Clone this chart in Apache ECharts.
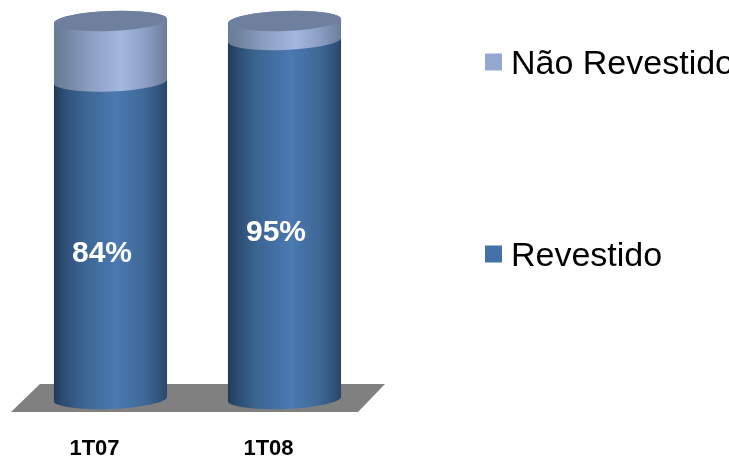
<!DOCTYPE html>
<html><head><meta charset="utf-8">
<style>html,body{margin:0;padding:0;background:#fff}#c{width:729px;height:456px}</style>
<script src="https://cdn.jsdelivr.net/npm/echarts@6/dist/echarts.min.js"></script>
</head><body><div id="c"></div>
<script>
const categories = ['1T07', '1T08'];
const revestido = [84, 95];
const naoRevestido = [16, 5];
const labels = ['84%', '95%'];
const FONT = '"Liberation Sans", Arial, sans-serif';
const TILT = 2.2, RY = 10, RATIO = 0.65;

function grad(stops) {
  return { type: 'linear', x: 0, y: 0, x2: 1, y2: 0,
    colorStops: stops.map(s => ({ offset: s[0], color: s[1] })) };
}
const darkGrad = grad([[0,'#1f3a58'],[0.08,'#2c4c72'],[0.25,'#3b6491'],[0.55,'#4b79b1'],[0.8,'#3e6997'],[0.95,'#2f5178'],[1,'#284766']]);
const lightGrad = grad([[0,'#6a7b99'],[0.1,'#72839f'],[0.3,'#8a9dc0'],[0.6,'#a3b8e0'],[0.82,'#8a9dc2'],[1,'#6c7d9a']]);

function renderBase(isTop) {
  return function (params, api) {
    const i = api.value(0);
    const cx = api.coord([i, 0])[0];
    const y0 = api.coord([i, api.value(1)])[1];
    const y1 = api.coord([i, api.value(2)])[1];
    const rx = api.size([1, 0])[0] * RATIO / 2;
    const t = rx * Math.sin(TILT * Math.PI / 180);
    const L = (y) => (cx - rx) + ' ' + (y + t);
    const R = (y) => (cx + rx) + ' ' + (y - t);
    const A = (sweep, p) => `A ${rx} ${RY} ${-TILT} 0 ${sweep} ${p}`;
    const children = [];
    if (!isTop) {
      children.push({ type: 'path', shape: { pathData: `M ${L(y1)} L ${R(y1)} L ${R(y0)} ${A(1, L(y0))} Z` },
        style: { fill: darkGrad } });
      children.push({ type: 'text', style: { text: labels[i], x: cx - 8.5, y: (y0 + y1) / 2 + 13,
        fill: '#ffffff', font: 'bold 30px ' + FONT, align: 'center', verticalAlign: 'middle' } });
    } else {
      children.push({ type: 'path', shape: { pathData: `M ${L(y0)} ${A(0, R(y0))} L ${R(y1)} ${A(0, L(y1))} Z` },
        style: { fill: lightGrad } });
      children.push({ type: 'path', shape: { pathData: `M ${L(y1)} ${A(1, R(y1))} ${A(1, L(y1))} Z` },
        style: { fill: '#6f809e' } });
    }
    return { type: 'group', children };
  };
}

const chart = echarts.init(document.getElementById('c'), null, { renderer: 'canvas' });
chart.setOption({
  animation: false,
  backgroundColor: '#ffffff',
  grid: { left: 23.5, width: 348, top: 21, height: 378, outerBoundsMode: 'none' },
  xAxis: { type: 'category', data: categories,
    axisLine: { show: false }, axisTick: { show: false },
    axisLabel: { color: '#000', fontFamily: FONT, fontWeight: 'bold', fontSize: 22, margin: 39, padding: [0, 32, 0, 0] } },
  yAxis: { type: 'value', min: 0, max: 100, show: false },
  legend: { orient: 'vertical', left: 485, top: 48, padding: 0, itemGap: 158, itemWidth: 17, itemHeight: 17,
    icon: 'rect', data: ['Não Revestido', 'Revestido'],
    formatter: '{t|{name}}',
    textStyle: { fontFamily: FONT, fontSize: 34, color: '#000',
      rich: { t: { fontFamily: FONT, fontSize: 34, color: '#000', padding: [6, 0, 0, 4] } } } },
  graphic: [{ type: 'polygon', silent: true, z: 0,
    shape: { points: [[40, 384], [385, 384], [358, 412], [11, 412]] }, style: { fill: '#808080' } }],
  series: [
    { type: 'custom', name: 'Revestido', z: 3, clip: false, itemStyle: { color: '#4472a8' },
      renderItem: renderBase(false), encode: { x: 0, y: [1, 2] },
      data: categories.map((c, i) => [i, 0, revestido[i]]) },
    { type: 'custom', name: 'Não Revestido', z: 4, clip: false, itemStyle: { color: '#93a7cf' },
      renderItem: renderBase(true), encode: { x: 0, y: [1, 2] },
      data: categories.map((c, i) => [i, revestido[i], revestido[i] + naoRevestido[i]]) }
  ]
});
</script></body></html>
